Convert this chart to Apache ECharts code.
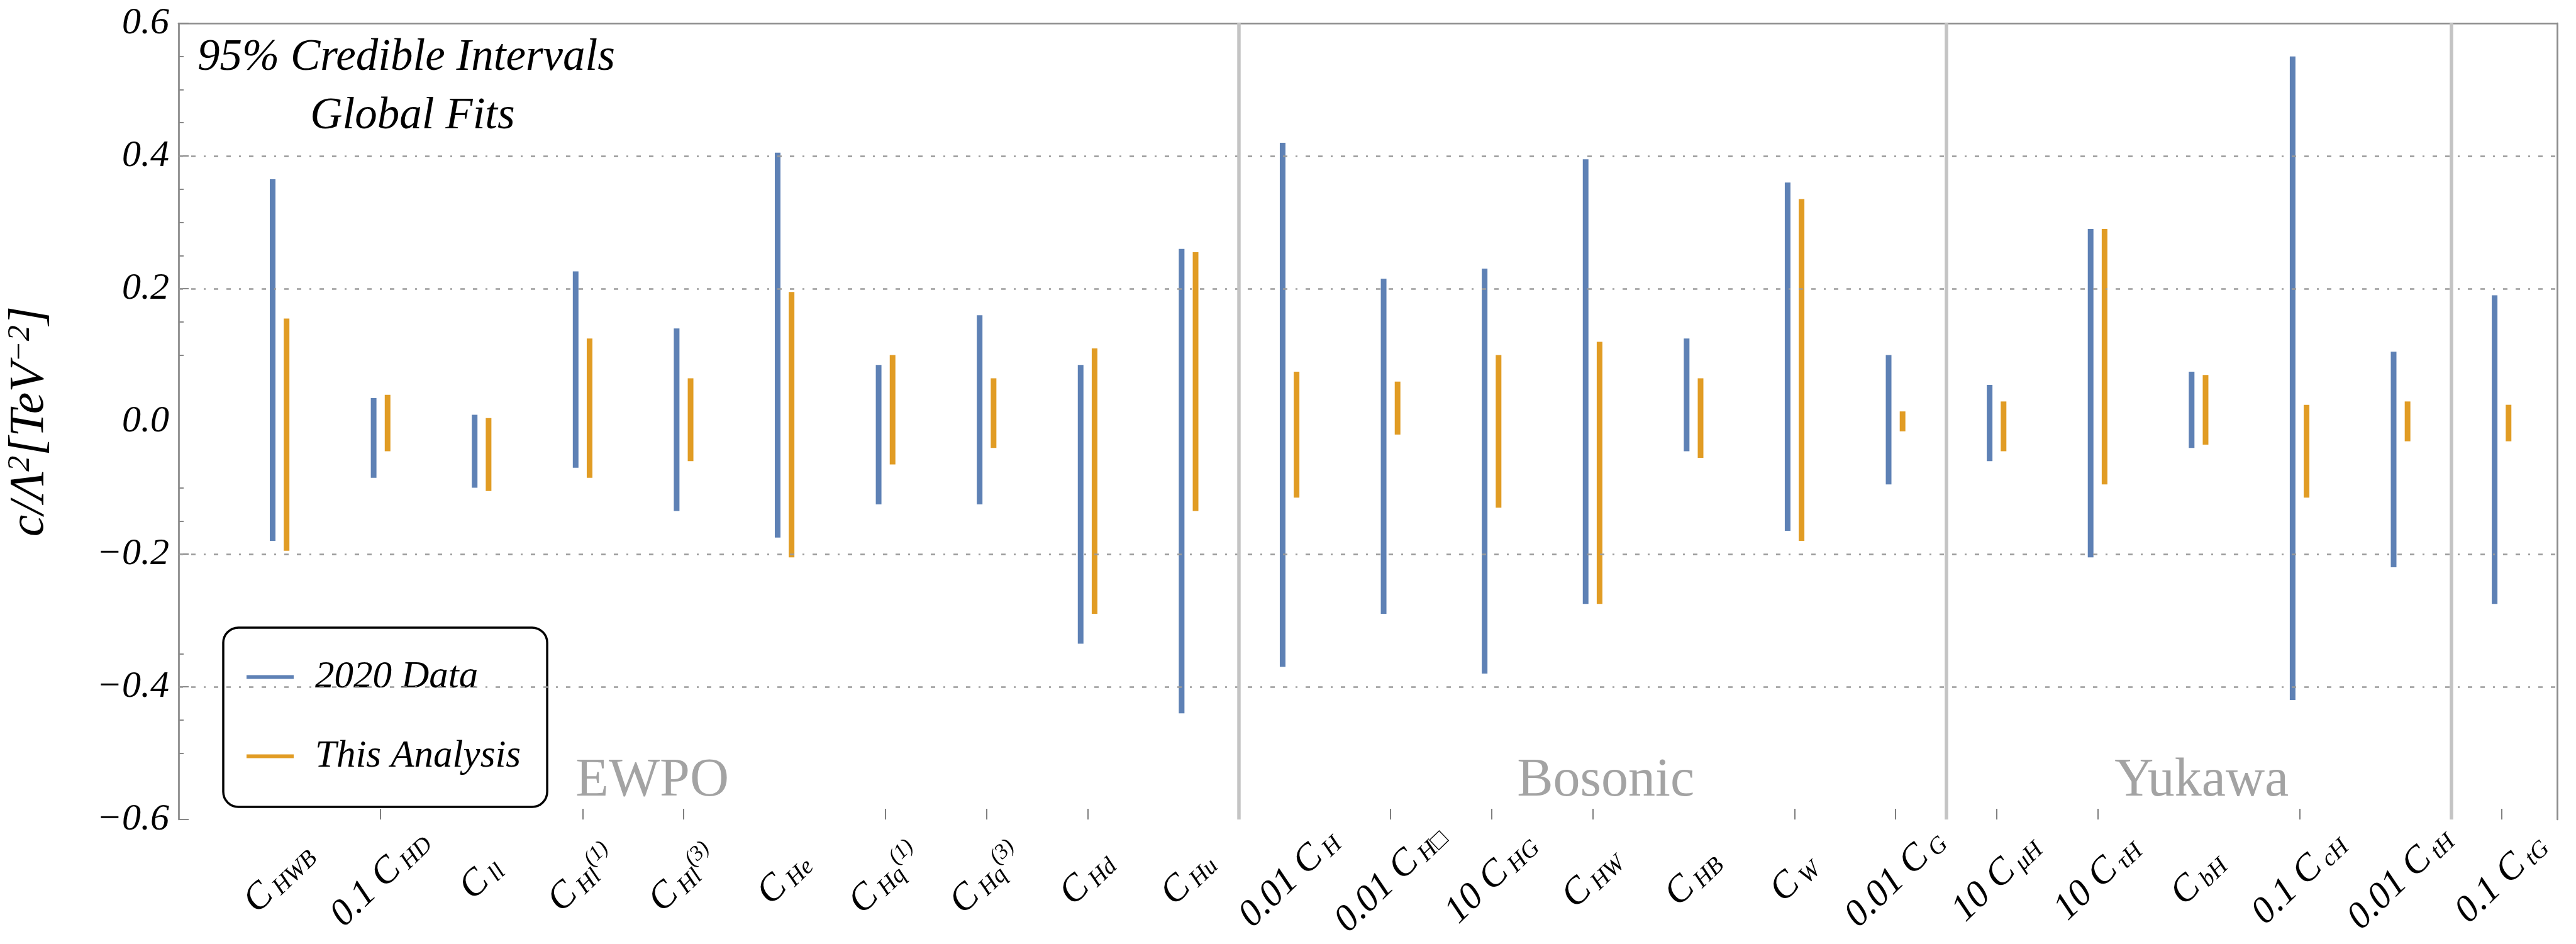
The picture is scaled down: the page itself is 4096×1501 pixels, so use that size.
<!DOCTYPE html>
<html>
<head>
<meta charset="utf-8">
<script src="https://cdn.jsdelivr.net/npm/echarts@6/dist/echarts.min.js"></script>
<style>
  html, body { margin: 0; padding: 0; background: #fff; }
  #chart { width: 4096px; height: 1501px; }
</style>
</head>
<body>
<div id="chart"></div>
<script>
const serif = "'Liberation Serif', 'Times New Roman', serif";

// tick labels: main part, subscript, superscript
const labelMain = ['C', '0.1 C', 'C', 'C', 'C', 'C', 'C', 'C', 'C', 'C',
  '0.01 C', '0.01 C', '10 C', 'C', 'C', 'C', '0.01 C',
  '10 C', '10 C', 'C', '0.1 C', '0.01 C', '0.1 C'];
const labelSub = ['HWB', 'HD', 'll', 'Hl', 'Hl', 'He', 'Hq', 'Hq', 'Hd', 'Hu',
  'H', 'H□', 'HG', 'HW', 'HB', 'W', 'G',
  'μH', 'τH', 'bH', 'cH', 'tH', 'tG'];
const labelSup = ['', '', '', '(1)', '(3)', '', '(1)', '(3)', '', '',
  '', '', '', '', '', '', '', '', '', '', '', '', ''];

// 95% intervals, 2020 data
const blueHigh = [0.365, 0.035, 0.01, 0.226, 0.14, 0.405, 0.085, 0.16, 0.085, 0.26,
  0.42, 0.215, 0.23, 0.395, 0.125, 0.36, 0.10,
  0.055, 0.29, 0.075, 0.55, 0.105, 0.19];
const blueLow = [-0.18, -0.085, -0.10, -0.07, -0.135, -0.175, -0.125, -0.125, -0.335, -0.44,
  -0.37, -0.29, -0.38, -0.275, -0.045, -0.165, -0.095,
  -0.06, -0.205, -0.04, -0.42, -0.22, -0.275];
// 95% intervals, this analysis
const orangeHigh = [0.155, 0.04, 0.005, 0.125, 0.065, 0.195, 0.10, 0.065, 0.11, 0.255,
  0.075, 0.06, 0.10, 0.12, 0.065, 0.335, 0.015,
  0.03, 0.29, 0.07, 0.025, 0.03, 0.025];
const orangeLow = [-0.195, -0.045, -0.105, -0.085, -0.06, -0.205, -0.065, -0.04, -0.29, -0.135,
  -0.115, -0.02, -0.13, -0.275, -0.055, -0.18, -0.015,
  -0.045, -0.095, -0.035, -0.115, -0.03, -0.03];

const groupNames = ['EWPO', 'Bosonic', 'Yukawa'];
const groupX = [3.69, 13.13, 19.03];
const groupY = -0.543;
const separators = [9.5, 16.5, 21.5];
const gridValues = [0.4, 0.2, -0.2, -0.4];

const xTicks = [1, 3, 4, 6, 7, 8, 11, 12, 13, 15, 16, 17, 18, 20, 22];
const yMajorTicks = [0.6, 0.4, 0.2, -0.2, -0.4, -0.6];
const yMinorTicks = [0.55, 0.5, 0.45, 0.35, 0.3, 0.25, 0.15, 0.1, -0.1, -0.15, -0.35, -0.45, -0.5];

const pairShift = 0.069;
const barWidth = 9;

const blueColor = '#5E81B5';
const orangeColor = '#E19C24';

function intervalData(low, high, shift) {
  return low.map((v, i) => [i + shift, v, high[i]]);
}

function renderInterval(params, api) {
  const top = api.coord([api.value(0), api.value(2)]);
  const bottom = api.coord([api.value(0), api.value(1)]);
  return {
    type: 'rect',
    shape: { x: top[0] - barWidth / 2, y: top[1], width: barWidth, height: bottom[1] - top[1] },
    style: { fill: api.visual('color') }
  };
}

function xLabel(value) {
  const i = Math.round(value);
  if (i < 0 || i >= labelMain.length) return '';
  let s = '{m|' + labelMain[i] + '}{s|' + labelSub[i] + '}';
  if (labelSup[i]) s += '{p|' + labelSup[i] + '}';
  return s;
}

function yLabel(value) {
  const s = Math.abs(value).toFixed(1);
  return value < -1e-9 ? '\u2212' + s : s;
}

const chart = echarts.init(document.getElementById('chart'));

let option = {
  animation: false,
  grid: { left: 271, right: 30, top: 37, bottom: 198, containLabel: false },
  legend: {
    orient: 'vertical',
    left: 355,
    top: 998,
    data: ['2020 Data', 'This Analysis'],
    icon: 'rect',
    itemWidth: 75,
    itemHeight: 6,
    itemGap: 65,
    padding: [48, 42, 50, 37],
    backgroundColor: '#fff',
    borderColor: '#000',
    borderWidth: 3.5,
    borderRadius: 24,
    textStyle: {
      fontFamily: serif,
      fontStyle: 'italic',
      fontSize: 61,
      lineHeight: 61,
      color: '#000',
      padding: [0, 0, 0, 29]
    }
  },
  graphic: [
    {
      type: 'text', x: 646, y: 92,
      style: { text: '95% Credible Intervals', fontFamily: serif, fontStyle: 'italic', fontSize: 71,
        fill: '#000', align: 'center', verticalAlign: 'middle', textAlign: 'center', textVerticalAlign: 'middle' }
    },
    {
      type: 'text', x: 656, y: 185,
      style: { text: 'Global Fits', fontFamily: serif, fontStyle: 'italic', fontSize: 71,
        fill: '#000', align: 'center', verticalAlign: 'middle', textAlign: 'center', textVerticalAlign: 'middle' }
    }
  ],
  xAxis: [
    {
      type: 'value',
      min: -1,
      max: 22.55,
      position: 'bottom',
      axisLine: { show: false, onZero: false },
      axisTick: { show: true, inside: true, length: 17, customValues: xTicks,
        lineStyle: { color: '#555', width: 1.5 } },
      axisLabel: {
        customValues: labelMain.map((d, i) => i),
        formatter: xLabel,
        rotate: 44,
        margin: 94,
        align: 'center',
        verticalAlign: 'middle',
        rich: {
          m: { fontFamily: serif, fontStyle: 'italic', fontSize: 60, color: '#000' },
          s: { fontFamily: serif, fontStyle: 'italic', fontSize: 38, color: '#000',
            verticalAlign: 'bottom', padding: [0, 0, 0, 8] },
          p: { fontFamily: serif, fontStyle: 'italic', fontSize: 34, color: '#000',
            verticalAlign: 'top' }
        }
      },
      splitLine: { show: false }
    },
    {
      type: 'value',
      min: -1,
      max: 22.55,
      position: 'top',
      axisLine: { show: true, onZero: false, lineStyle: { color: '#8c8c8c', width: 2.7 } },
      axisTick: { show: false },
      axisLabel: { show: false },
      splitLine: { show: false }
    }
  ],
  yAxis: [
    {
      type: 'value',
      min: -0.6,
      max: 0.6,
      interval: 0.2,
      position: 'left',
      axisLine: { show: true, onZero: false, lineStyle: { color: '#888', width: 2.7 } },
      axisTick: { show: true, inside: true, length: 16, customValues: yMajorTicks,
        lineStyle: { color: '#888', width: 2 } },
      axisLabel: { formatter: yLabel, fontFamily: serif, fontStyle: 'italic', fontSize: 60,
        color: '#000', margin: 15 },
      splitLine: { show: false },
      name: '{n|c/Λ}{s|2}{n|[TeV}{s|−2}{n|]}',
      nameLocation: 'middle',
      nameGap: 198,
      nameTextStyle: {
        rich: {
          n: { fontFamily: serif, fontStyle: 'italic', fontSize: 78, color: '#000' },
          s: { fontFamily: serif, fontStyle: 'italic', fontSize: 50, color: '#000', verticalAlign: 'top' }
        }
      }
    },
    {
      type: 'value',
      min: -0.6,
      max: 0.6,
      position: 'left',
      axisLine: { show: false, onZero: false },
      axisTick: { show: true, inside: true, length: 8, customValues: yMinorTicks,
        lineStyle: { color: '#888', width: 2 } },
      axisLabel: { show: false },
      splitLine: { show: false }
    },
    {
      type: 'value',
      min: -0.6,
      max: 0.6,
      position: 'right',
      axisLine: { show: true, onZero: false, lineStyle: { color: '#8c8c8c', width: 2.7 } },
      axisTick: { show: false },
      axisLabel: { show: false },
      splitLine: { show: false }
    }
  ],
  series: [
    {
      name: '2020 Data',
      type: 'custom',
      renderItem: renderInterval,
      itemStyle: { color: blueColor },
      encode: { x: 0, y: [1, 2] },
      data: intervalData(blueLow, blueHigh, -pairShift),
      z: 3,
      markLine: {
        silent: true,
        symbol: 'none',
        label: { show: false },
        lineStyle: { type: [7, 13, 7, 13, 3, 13], color: '#9a9a9a', width: 2.6 },
        data: gridValues.map(v => ({ yAxis: v }))
      }
    },
    {
      name: 'This Analysis',
      type: 'custom',
      renderItem: renderInterval,
      itemStyle: { color: orangeColor },
      encode: { x: 0, y: [1, 2] },
      data: intervalData(orangeLow, orangeHigh, pairShift),
      z: 3,
      markLine: {
        silent: true,
        symbol: 'none',
        label: { show: false },
        lineStyle: { type: 'solid', color: '#c4c4c4', width: 5.5 },
        data: separators.map(v => ({ xAxis: v }))
      }
    },
    {
      name: 'groups',
      type: 'scatter',
      symbolSize: 0,
      silent: true,
      data: groupNames.map((g, i) => [groupX[i], groupY, g]),
      label: {
        show: true,
        position: 'inside',
        formatter: p => p.data[2],
        fontFamily: serif,
        fontSize: 86,
        color: '#8c8c8c'
      }
    }
  ]
};

chart.setOption(option);
</script>
</body>
</html>
